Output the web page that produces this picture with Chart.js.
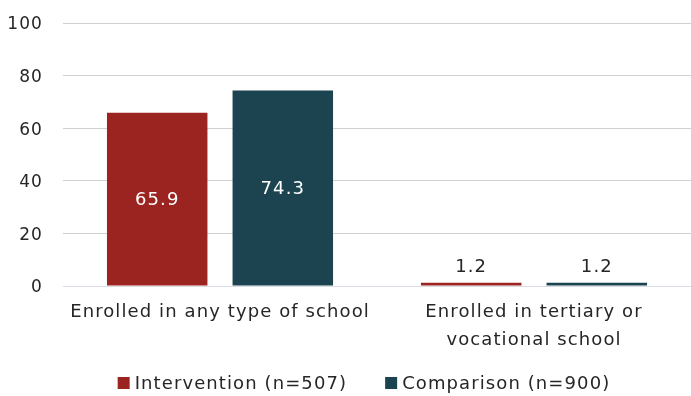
<!DOCTYPE html>
<html>
<head>
<meta charset="utf-8">
<script src="https://cdn.jsdelivr.net/npm/chart.js@4/dist/chart.umd.min.js"></script>
<style>
  html, body { margin: 0; padding: 0; background: #ffffff; }
  #wrap { width: 691px; height: 396px; }
</style>
</head>
<body>
<div id="wrap"><canvas id="c" width="691" height="396"></canvas></div>
<script>
const categories = [
  "Enrolled in any type of school",
  ["Enrolled in tertiary or", "vocational school"]
];
const seriesNames = ["Intervention (n=507)", "Comparison (n=900)"];
const intervention = [65.9, 1.2];
const comparison = [74.3, 1.2];
const yTicks = [0, 20, 40, 60, 80, 100];

const FONT = "'DejaVu Sans', sans-serif";
const TEXT = "#262626";
const SPACING = "1.1px";

// Slightly wider text tracking for every label drawn on the canvas.
const tracking = {
  id: "tracking",
  beforeInit(chart) { chart.ctx.letterSpacing = SPACING; },
  beforeUpdate(chart) { chart.ctx.letterSpacing = SPACING; },
  beforeDraw(chart) { chart.ctx.letterSpacing = SPACING; }
};

// Writes each bar's value: inside the bar when it is tall, above it when short.
const valueLabels = {
  id: "valueLabels",
  afterDatasetsDraw(chart) {
    const ctx = chart.ctx;
    ctx.save();
    ctx.letterSpacing = SPACING;
    ctx.font = "18px " + FONT;
    ctx.textAlign = "center";
    chart.data.datasets.forEach((ds, i) => {
      const meta = chart.getDatasetMeta(i);
      meta.data.forEach((bar, j) => {
        const v = ds.data[j];
        const text = v.toFixed(1);
        if (v > 10) {
          ctx.fillStyle = "#ffffff";
          ctx.textBaseline = "middle";
          ctx.fillText(text, bar.x, (bar.y + bar.base) / 2 + 1);
        } else {
          ctx.fillStyle = TEXT;
          ctx.textBaseline = "bottom";
          ctx.fillText(text, bar.x, bar.y - 7);
        }
      });
    });
    ctx.restore();
  }
};

// Bottom legend: square swatch, short gap, series name; wide gap between entries.
const bottomLegend = {
  id: "bottomLegend",
  afterDraw(chart) {
    const ctx = chart.ctx;
    const box = 12, boxGap = 5, itemGap = 38, centerX = 364, centerY = 383;
    ctx.save();
    ctx.letterSpacing = SPACING;
    ctx.font = "18px " + FONT;
    ctx.textBaseline = "middle";
    ctx.textAlign = "left";
    const items = chart.data.datasets.map(ds => ({
      text: ds.label,
      color: ds.backgroundColor,
      w: box + boxGap + ctx.measureText(ds.label).width
    }));
    const total = items.reduce((s, it) => s + it.w, 0) + itemGap * (items.length - 1);
    let x = centerX - total / 2;
    items.forEach(it => {
      ctx.fillStyle = it.color;
      ctx.fillRect(x, centerY - box / 2, box, box);
      ctx.fillStyle = TEXT;
      ctx.fillText(it.text, x + box + boxGap, centerY + 1);
      x += it.w + itemGap;
    });
    ctx.restore();
  }
};

new Chart(document.getElementById("c"), {
  type: "bar",
  data: {
    labels: categories,
    datasets: [
      { label: seriesNames[0], data: intervention, backgroundColor: "#9b2421" },
      { label: seriesNames[1], data: comparison, backgroundColor: "#1b4450" }
    ]
  },
  options: {
    responsive: false,
    animation: false,
    layout: { padding: { top: 0, right: 0, left: 0, bottom: 43 } },
    datasets: { bar: { barPercentage: 0.8, categoryPercentage: 0.8 } },
    plugins: {
      legend: { display: false },
      tooltip: { enabled: false }
    },
    scales: {
      x: {
        grid: { display: false },
        border: { color: "#d9dce3", width: 1 },
        afterFit(scale) { scale.height = 67; },
        ticks: {
          font: { family: FONT, size: 18, lineHeight: 1.55 },
          color: TEXT,
          padding: 4,
          minRotation: 0,
          maxRotation: 0,
          autoSkip: false
        }
      },
      y: {
        min: 0,
        max: 100,
        afterBuildTicks(scale) { scale.ticks = yTicks.map(v => ({ value: v })); },
        afterFit(scale) {
          scale.width = 63;
          scale.paddingTop = 23;
        },
        grid: { color: "#d0d0d0", lineWidth: 1, drawTicks: false },
        border: { display: false },
        ticks: { font: { family: FONT, size: 17 }, color: TEXT, padding: 20, labelOffset: 2 }
      }
    }
  },
  plugins: [tracking, valueLabels, bottomLegend]
});
</script>
</body>
</html>
